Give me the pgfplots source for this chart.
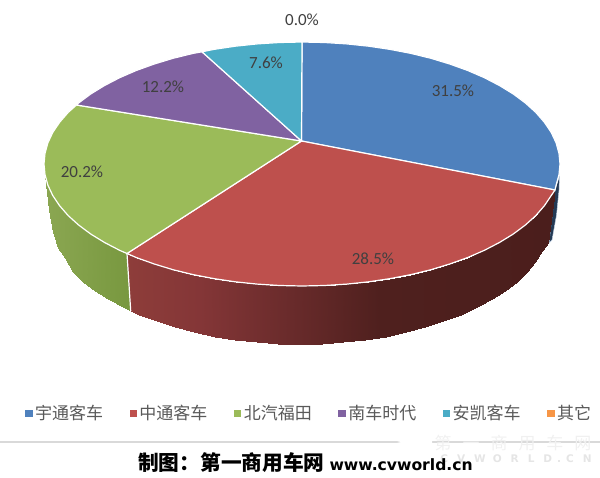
\documentclass[border=0pt]{standalone}
\usepackage{fontspec}
\setmainfont{Carlito}
\newfontfamily\cjk{Noto Sans CJK SC}
\newfontfamily\webfont{DejaVu Sans}
\usepackage{pgfplots}
\pgfplotsset{compat=1.18}

\definecolor{cblue}{RGB}{79,129,189}
\definecolor{cred}{RGB}{190,80,77}
\definecolor{cgreen}{RGB}{155,187,89}
\definecolor{cpurple}{RGB}{128,98,161}
\definecolor{cteal}{RGB}{75,172,198}
\definecolor{corange}{RGB}{247,150,70}
\definecolor{ctext}{RGB}{64,64,64}
\definecolor{clegend}{RGB}{89,89,89}

\pgfplotsset{
  topslice/.style={fill=#1, draw=white, line width=1.2pt, line join=round, forget plot},
  legsq/.style={legend image code/.code={\fill[#1] (0pt,-3pt) rectangle (6.5pt,3pt);}},
}

\begin{document}
\begin{tikzpicture}
\useasboundingbox (0,0) rectangle (600pt,477pt);
\begin{axis}[
    scale only axis,
    width=600pt, height=477pt,
    xmin=0, xmax=600, ymin=0, ymax=477,
    y dir=reverse,
    hide axis,
    colormap={redside}{rgb255(0pt)=(142,61,58); rgb255(17pt)=(132,54,55); rgb255(40pt)=(103,42,42); rgb255(59pt)=(79,32,30); rgb255(100pt)=(75,30,28)},
    colormap={greenside}{rgb255(0pt)=(139,167,82); rgb255(100pt)=(120,152,63)},
    legend columns=6,
    legend cell align=left,
    legend style={at={(axis cs:25,413)}, anchor=west, draw=none, fill=none,
      font=\cjk\fontsize{17}{17}\selectfont\color{clegend},
      /tikz/every even column/.append style={column sep=24.5pt},
      /tikz/every odd column/.append style={column sep=1pt},
      inner sep=0pt},
]
% sides, dark blue sliver first
\addplot[fill=black!10!cblue!50!black, draw=white!70!cblue, line width=0.4pt, forget plot] coordinates {
  (559.5,176) (559,190) (556.5,215) (552,240) (549,243) (555,190)} -- cycle;

% green side: rim point then bottom point
\addplot[surf, shader=interp, colormap name=greenside, point meta=x, point meta rel=per plot,
  mesh/ordering=x varies, mesh/cols=2, forget plot] coordinates {
  (44,160) (44.5,165)
  (44,164) (46,182)
  (45,174.6) (49,210)
  (47.9,185.2) (53,232)
  (52.8,195.6) (58.5,248)
  (59.6,205.7) (65,258)
  (68.2,215.6) (73.4,271.8)
  (78.6,225) (83.5,281.5)
  (90.7,234) (95.2,290.7)
  (104.4,242.4) (108.5,299.4)
  (119.6,250.3) (123.2,307.4)
  (127,253.5) (130.7,311)
};

% red side
\addplot[surf, shader=interp, colormap name=redside, point meta=x, point meta rel=per plot,
  mesh/ordering=x varies, mesh/cols=2, forget plot] coordinates {
  (127,253.5) (130.7,311)
  (136.2,257.5) (139.3,314.8)
  (154,263.9) (156.6,321.4)
  (173,269.7) (175,327.3)
  (193,274.6) (194.3,332.3)
  (213.8,278.6) (214.5,336.5)
  (235.2,281.8) (235.3,339.7)
  (257.2,284.1) (256.6,342.1)
  (279.5,285.5) (278.2,343.5)
  (302,286) (300,344)
  (324.5,285.5) (321.8,343.5)
  (346.8,284.1) (343.4,342.1)
  (368.8,281.8) (364.7,339.7)
  (390.2,278.6) (385.5,336.5)
  (411,274.6) (405.7,332.3)
  (431,269.7) (425,327.3)
  (450,263.9) (443.4,321.4)
  (467.8,257.5) (460.7,314.8)
  (484.4,250.3) (476.8,307.4)
  (499.6,242.4) (491.5,299.4)
  (513.3,234) (504.8,290.7)
  (525.4,225) (516.5,281.5)
  (535.8,215.6) (526.6,271.8)
  (544.4,205.7) (534.9,261.8)
  (551.2,195.6) (541.5,251.4)
  (555,190) (548,243)
};
\addplot[white, line width=1.2pt, forget plot] coordinates {(127,253.5) (130.7,311)};

% top face: 31.5, 28.5, 20.2, 12.2, 7.6
\addplot[topslice=cblue] coordinates {
  (301.5,141) (302,42) (324.5,42.5) (346.8,43.9) (368.8,46.2) (390.2,49.4) (411,53.4) (431,58.3)
  (450,64.1) (467.8,70.5) (484.4,77.7) (499.6,85.6) (513.3,94) (525.4,103) (535.8,112.4)
  (544.4,122.3) (551.2,132.4) (556.1,142.8) (559,153.4) (560,164) (559,174.6) (556.1,185.2) (555,190)} -- cycle;
\addplot[topslice=cred] coordinates {
  (301.5,141) (555,190) (551.2,195.6) (544.4,205.7) (535.8,215.6) (525.4,225) (513.3,234) (499.6,242.4)
  (484.4,250.3) (467.8,257.5) (450,263.9) (431,269.7) (411,274.6) (390.2,278.6) (368.8,281.8)
  (346.8,284.1) (324.5,285.5) (302,286) (279.5,285.5) (257.2,284.1) (235.2,281.8) (213.8,278.6)
  (193,274.6) (173,269.7) (154,263.9) (136.2,257.5) (127,253.5)} -- cycle;
\addplot[topslice=cgreen] coordinates {
  (301.5,141) (127,253.5) (119.6,250.3) (104.4,242.4) (90.7,234) (78.6,225) (68.2,215.6) (59.6,205.7)
  (52.8,195.6) (47.9,185.2) (45,174.6) (44,164) (45,153.4) (47.9,142.8) (52.8,132.4) (59.6,122.3)
  (68.2,112.4) (76.5,105)} -- cycle;
\addplot[topslice=cpurple] coordinates {
  (301.5,141) (76.5,105) (78.6,103) (90.7,94) (104.4,85.6) (119.6,77.7) (136.2,70.5) (154,64.1)
  (173,58.3) (193,53.4) (202,51.8)} -- cycle;
\addplot[topslice=cteal] coordinates {
  (301.5,141) (202,51.8) (213.8,49.4) (235.2,46.2) (257.2,43.9) (279.5,42.5) (302,42)} -- cycle;

\addlegendimage{legsq=cblue}\addlegendentry{宇通客车}
\addlegendimage{legsq=cred}\addlegendentry{中通客车}
\addlegendimage{legsq=cgreen}\addlegendentry{北汽福田}
\addlegendimage{legsq=cpurple}\addlegendentry{南车时代}
\addlegendimage{legsq=cteal}\addlegendentry{安凯客车}
\addlegendimage{legsq=corange}\addlegendentry{其它}

% value labels
\begin{scope}[every node/.style={text=ctext, font=\fontsize{17}{17}\selectfont, inner sep=0pt}]
\node at (axis cs:453,91) {31.5\%};
\node at (axis cs:373,259) {28.5\%};
\node at (axis cs:82,172) {20.2\%};
\node at (axis cs:163,87) {12.2\%};
\node at (axis cs:266,63) {7.6\%};
\node at (axis cs:302,20) {0.0\%};
\end{scope}

% rule, watermark and credit
\draw[color=black!15, line width=2pt] (axis cs:0,442) -- (axis cs:600,442);
\fill[white] (axis cs:397,442) -- (axis cs:432,433) -- (axis cs:432,450) -- cycle;
\node[text=black!6, inner sep=0pt, font=\cjk\fontsize{17}{17}\selectfont] at (axis cs:513,443)
  {第\hspace{11pt}一\hspace{11pt}商\hspace{11pt}用\hspace{11pt}车\hspace{11pt}网};
\node[text=black!10, inner sep=0pt, font=\webfont\bfseries\fontsize{10.5}{10.5}\selectfont] at (axis cs:516,459)
  {C\hspace{9pt}V\hspace{9pt}W\hspace{7pt}O\hspace{9pt}R\hspace{9pt}L\hspace{9pt}D\hspace{5pt}.\hspace{5pt}C\hspace{9pt}N};
\node[anchor=west, inner sep=0pt, text=black] at (axis cs:138,463)
  {\cjk\bfseries\fontsize{20.7}{20.7}\selectfont 制图：第一商用车网\hspace{5pt}\webfont\bfseries\fontsize{15.6}{15.6}\selectfont www.cvworld.cn};
\end{axis}
\end{tikzpicture}
\end{document}
